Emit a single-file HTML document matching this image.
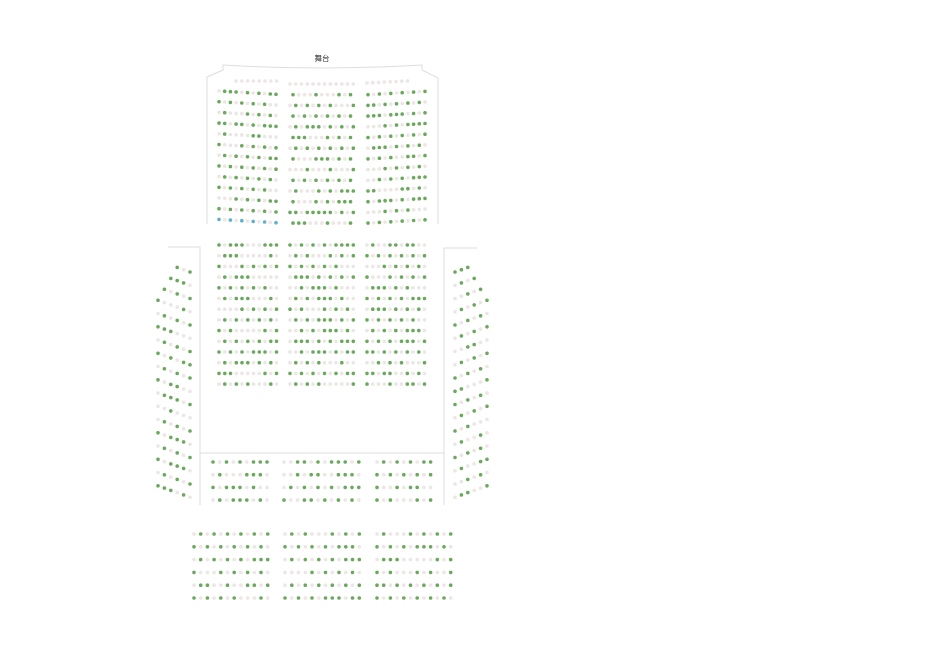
<!DOCTYPE html>
<html><head><meta charset="utf-8"><style>
html,body{margin:0;padding:0;background:#fff;width:939px;height:655px;overflow:hidden}
svg{display:block}
</style></head><body>
<svg id="s" width="939" height="655" viewBox="0 0 939 655" xmlns="http://www.w3.org/2000/svg">
<text x="322" y="61" font-family="'Liberation Sans','Noto Sans CJK SC',sans-serif" font-size="7.5" text-anchor="middle" fill="#333">舞台</text>
<g fill="none" stroke="#ddd" stroke-width="1">
<path d="M207,224 L207,77 L223,70 L223,65 Q322,71 422,65 L422,70 L438,78 L438,224"/>
<path d="M168,247 L200,247 L200,505"/>
<path d="M477,248 L444,248 L444,505"/>
<path d="M200,453 L444,453"/>
</g>
<g id="d"></g>
</svg>
<script>
var g=document.getElementById('d'),h='',seed=7;
function r(){seed=(seed*9301+49297)%233280;return seed/233280;}
var G='#6aa95c',L='#ece6e4',B='#5bb4cc';
function dot(x,y,c){h+='<circle cx="'+x.toFixed(1)+'" cy="'+y.toFixed(1)+'" r="1.8" fill="'+c+'"/>';}
function col(i){var g=(i%2==0);if(r()<0.12)g=!g;return g?G:L;}
function row(x0,y0,n,dx,dy,allGray,blue,ph){ph=ph||0;for(var i=0;i<n;i++){var c=allGray?L:col(i+ph);if(blue)c=(i%2==0)?B:L;dot(x0+i*dx,y0+i*dy,c);}}
// top section
for(var k=0;k<14;k++){
 var y=84+k*10.7;
 if(k==0)row(290,y,12,5.75,0,true);else if(k%2==1)row(293,y,11,5.75,0,false,false,0);else row(290,y,12,5.75,0,false,false,1);
 if(k==0)row(236,81,8,5.8,0,true);
 else row(219,y-3.7,11,5.7,0.33,false,k==13,k);
 if(k==0)row(367,83,8,5.8,-0.3,true);
 else row(368,y,11,5.7,-0.33,false,false,k+1);
}
// middle section
for(var k=0;k<14;k++){
 var y=245+k*10.7;
 row(219,y,11,5.75,0,false,false,k);row(290,y,12,5.75,0,false,false,k);row(367,y,11,5.75,0,false,false,k+1);
}
// sides
for(var k=0;k<18;k++){
 var n=k==0?3:k==1?4:k==2?5:6, yr=272+k*13.25;
 for(var i=0;i<n;i++){
  dot(190-i*6.4,yr-i*2.3,col(i+k));
  dot(455+i*6.4,yr-i*2.3,col(i+k));
 }
}
// lower inside
for(var k=0;k<4;k++){var y=462+k*12.7;row(213,y,9,6.75,0,false,false,k);row(284,y,12,6.8,0,false,false,k+1);row(377,y,9,6.7,0,false,false,k+1);}
// bottom
for(var k=0;k<6;k++){var y=534+k*12.8;row(194,y,12,6.7,0,false,false,k+1);row(285,y,12,6.75,0,false,false,k+1);row(377,y,12,6.7,0,false,false,k+1);}
g.innerHTML=h;
</script>
</body></html>
